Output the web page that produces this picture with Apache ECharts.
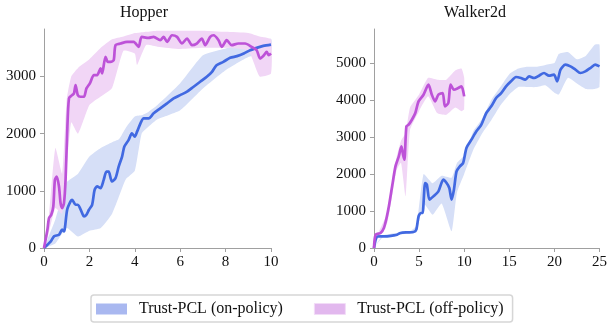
<!DOCTYPE html>
<html>
<head>
<meta charset="utf-8">
<script src="https://cdn.jsdelivr.net/npm/echarts@6/dist/echarts.min.js"></script>
<style>
  html, body { margin: 0; padding: 0; background: #fff; }
  #chart { width: 610px; height: 324px; }
</style>
</head>
<body>
<div id="chart"></div>
<script>
// ---- data ----
const titles = ['Hopper', 'Walker2d'];
const legendNames = ['Trust-PCL (on-policy)', 'Trust-PCL (off-policy)'];

const hopperYTicks = [0, 1000, 2000, 3000];
const hopperXTicks = [0, 2, 4, 6, 8, 10];
const walkerYTicks = [0, 1000, 2000, 3000, 4000, 5000];
const walkerXTicks = [0, 5, 10, 15, 20, 25];

// Hopper, on-policy mean curve
const hopperOnX = [0, 0.3, 0.44, 0.66, 0.8, 0.88, 1.02, 1.17, 1.24, 1.39, 1.49, 1.68, 1.76, 1.87, 1.98, 2.12, 2.23, 2.34, 2.49, 2.63, 2.75, 2.85, 2.99, 3.15, 3.29, 3.44, 3.54, 3.73, 3.87, 4.0, 4.1, 4.25, 4.39, 4.61, 4.83, 5.12, 5.42, 5.71, 6.0, 6.3, 6.59, 6.88, 7.17, 7.4, 7.6, 7.9, 8.2, 8.5, 8.8, 9.08, 9.37, 9.66, 10];
const hopperOnY = [0, 116, 203, 233, 320, 290, 669, 814, 843, 756, 756, 610, 552, 581, 669, 756, 1017, 1076, 1047, 1192, 1337, 1337, 1163, 1221, 1424, 1599, 1773, 1890, 2006, 1948, 2035, 2180, 2267, 2267, 2355, 2442, 2529, 2616, 2674, 2733, 2820, 2907, 2994, 3081, 3198, 3256, 3326, 3355, 3401, 3459, 3500, 3535, 3558];
// Hopper, on-policy spread
const hopperOnBandX = [0, 0.5, 1, 1.5, 2, 2.5, 3, 3.3, 3.6, 4, 4.3, 4.6, 5, 6, 7, 8, 9, 10];
const hopperOnLow = [0, 80, 350, 200, 300, 350, 600, 900, 1200, 1350, 2000, 2120, 2250, 2410, 2790, 3110, 3340, 3460];
const hopperOnHigh = [0, 500, 1150, 1300, 1600, 1750, 1850, 1900, 2100, 2300, 2320, 2380, 2500, 2880, 3370, 3490, 3575, 3660];

// Hopper, off-policy mean curve
const hopperOffX = [0, 0.15, 0.22, 0.32, 0.41, 0.48, 0.56, 0.66, 0.73, 0.8, 0.88, 0.95, 1.02, 1.1, 1.24, 1.32, 1.39, 1.49, 1.61, 1.76, 1.87, 2.02, 2.2, 2.34, 2.49, 2.56, 2.71, 2.81, 2.93, 3.07, 3.15, 3.37, 3.66, 3.95, 4.17, 4.3, 4.61, 4.83, 5.12, 5.27, 5.42, 5.64, 5.86, 6.08, 6.3, 6.52, 6.73, 6.95, 7.1, 7.32, 7.47, 7.69, 7.83, 8.05, 8.27, 8.56, 8.86, 9.15, 9.37, 9.52, 9.69, 9.81, 9.9, 10];
const hopperOffY = [0, 320, 523, 581, 727, 1192, 1250, 1076, 785, 698, 785, 1192, 2006, 2616, 2674, 2703, 2849, 2674, 2645, 2645, 2791, 2878, 3023, 3023, 3140, 3052, 3343, 3256, 3256, 3285, 3547, 3576, 3605, 3605, 3517, 3692, 3674, 3692, 3634, 3692, 3605, 3721, 3692, 3576, 3663, 3547, 3576, 3663, 3547, 3692, 3721, 3634, 3517, 3634, 3547, 3576, 3576, 3517, 3459, 3314, 3372, 3430, 3372, 3401];
// Hopper, off-policy spread
const hopperOffBandX = [0, 0.2, 0.5, 0.8, 1.0, 1.2, 1.5, 2, 2.5, 3, 3.5, 4, 4.1, 4.5, 5, 6, 7, 8, 9, 9.5, 10];
const hopperOffLow = [0, 250, 700, 600, 1400, 2200, 2000, 2500, 2650, 2800, 3450, 3400, 3200, 3550, 3520, 3480, 3500, 3500, 3450, 3000, 3050];
const hopperOffHigh = [0, 500, 1750, 1300, 2600, 3000, 3150, 3300, 3500, 3650, 3700, 3760, 3760, 3780, 3800, 3800, 3800, 3780, 3760, 3700, 3650];

// Walker2d, on-policy mean curve
const walkerOnX = [0, 0.29, 0.73, 1.46, 2.2, 2.56, 2.93, 3.66, 4.39, 4.69, 4.94, 5.2, 5.38, 5.67, 5.86, 6.15, 6.59, 7.14, 7.69, 8.05, 8.35, 8.6, 8.86, 9.15, 9.52, 9.88, 10.25, 10.8, 11.35, 11.9, 12.45, 13.0, 13.54, 14.1, 14.64, 15.19, 15.74, 16.29, 16.76, 17.2, 17.75, 18.3, 18.85, 19.4, 19.95, 20.3, 20.68, 21.23, 21.78, 22.33, 22.88, 23.43, 23.98, 24.52, 25];
const walkerOnY = [0, 297, 315, 315, 342, 360, 405, 423, 432, 495, 856, 946, 946, 1757, 1712, 1306, 1396, 1532, 1847, 1757, 1622, 1306, 1577, 2072, 2207, 2297, 2703, 2928, 3153, 3333, 3649, 3829, 4054, 4189, 4369, 4505, 4622, 4595, 4550, 4640, 4595, 4658, 4730, 4658, 4685, 4505, 4820, 4955, 4910, 4820, 4730, 4775, 4865, 4955, 4910];
// Walker2d, on-policy spread
const walkerOnBandX = [0, 1, 4, 4.7, 5.5, 6.5, 7.5, 8.6, 9.2, 10, 11, 12, 13, 14, 15, 16, 17, 18, 19, 20, 20.5, 21.5, 22.5, 23.5, 24.5, 25];
const walkerOnLow = [0, 290, 400, 420, 1200, 900, 1200, 450, 1500, 2000, 2650, 3100, 3450, 3850, 4150, 4350, 4350, 4350, 4400, 4200, 4150, 4600, 4450, 4300, 4300, 4350];
const walkerOnHigh = [0, 340, 460, 600, 2000, 1750, 1950, 1900, 2300, 2500, 3150, 3500, 4000, 4350, 4700, 4850, 4900, 4900, 4950, 5000, 5250, 5300, 5100, 5200, 5500, 5500];

// Walker2d, off-policy mean curve
const walkerOffX = [0, 0.18, 0.73, 1.1, 1.39, 1.65, 2.01, 2.38, 2.75, 3.04, 3.22, 3.37, 3.59, 3.84, 4.2, 4.58, 4.94, 5.49, 6.04, 6.41, 6.77, 7.14, 7.61, 7.87, 8.24, 8.49, 8.86, 9.33, 9.7, 10];
const walkerOffY = [0, 360, 405, 541, 811, 1126, 1667, 2207, 2477, 2748, 2523, 2387, 3288, 3333, 3468, 3649, 3964, 4144, 4414, 4144, 3964, 4144, 4189, 3829, 3919, 4414, 4279, 4324, 4369, 4099];
// Walker2d, off-policy spread
const walkerOffBandX = [0, 0.5, 1.5, 2.5, 3, 3.5, 4, 5, 6, 7, 8, 9, 9.7, 10];
const walkerOffLow = [0, 300, 700, 2100, 2300, 1400, 3200, 3700, 4100, 3650, 3600, 3800, 3700, 3750];
const walkerOffHigh = [0, 420, 950, 2450, 2900, 3100, 3800, 4150, 4600, 4550, 4550, 4800, 4850, 4600];

// ---- styling ----
const blueLine = '#4169e1';
const blueBand = '#d6dff7';
const pinkLine = '#bd52d8';
const pinkBand = '#f1d6f6';
const axisGray = '#a0a0a0';
const serif = 'Liberation Serif';

const zip = (xs, ys) => xs.map((x, i) => [x, ys[i]]);

// shaded spread: one polygon (upper edge then lower edge back) drawn via the axis scales
function band(name, xs, low, high, color, idx) {
  const rows = xs.map((x, i) => [x, low[i], high[i]]);
  return {
    name: name,
    type: 'custom', xAxisIndex: idx, yAxisIndex: idx,
    silent: true, z: 1,
    itemStyle: { color: color },
    encode: { x: 0, y: [1, 2] },
    data: rows,
    renderItem: function (params, api) {
      if (params.dataIndex !== 0) return;
      const top = rows.map(r => api.coord([r[0], r[2]]));
      const bottom = rows.map(r => api.coord([r[0], r[1]])).reverse();
      return {
        type: 'polygon',
        shape: { points: top.concat(bottom), smooth: 0.15 },
        style: { fill: color }
      };
    }
  };
}

function curve(xs, ys, color, idx) {
  return {
    type: 'line', xAxisIndex: idx, yAxisIndex: idx,
    symbol: 'none', smooth: 0.25, silent: true, z: 3,
    lineStyle: { color: color, width: 2.7 },
    data: zip(xs, ys)
  };
}

function xAxis(idx, max, ticks) {
  return {
    type: 'value', gridIndex: idx, min: 0, max: max,
    axisLine: { show: true, lineStyle: { color: axisGray, width: 1 } },
    axisTick: { show: true, length: 4, lineStyle: { color: axisGray }, customValues: ticks },
    axisLabel: { color: '#111', fontFamily: serif, fontSize: 15, margin: 7, customValues: ticks,
      formatter: v => String(v) },
    splitLine: { show: false }
  };
}

function yAxis(idx, max, ticks) {
  return {
    type: 'value', gridIndex: idx, min: 0, max: max,
    axisLine: { show: true, lineStyle: { color: axisGray, width: 1 } },
    axisTick: { show: true, length: 4, lineStyle: { color: axisGray }, customValues: ticks },
    axisLabel: { color: '#111', fontFamily: serif, fontSize: 15, margin: 8, customValues: ticks,
      formatter: v => String(v) },
    splitLine: { show: false }
  };
}

const chart = echarts.init(document.getElementById('chart'), null, { renderer: 'canvas' });

chart.setOption({
  animation: false,
  backgroundColor: '#fff',
  textStyle: { fontFamily: serif },
  title: [
    { text: titles[0], left: 139, top: 0, textAlign: 'center',
      textStyle: { fontFamily: serif, fontSize: 16, fontWeight: 'normal', color: '#111' } },
    { text: titles[1], left: 470, top: 0, textAlign: 'center',
      textStyle: { fontFamily: serif, fontSize: 16, fontWeight: 'normal', color: '#111' } }
  ],
  grid: [
    { left: 44, right: 339, top: 29, bottom: 76 },
    { left: 374, right: 9, top: 29, bottom: 76 }
  ],
  xAxis: [xAxis(0, 10, hopperXTicks), xAxis(1, 25, walkerXTicks)],
  yAxis: [yAxis(0, 3830, hopperYTicks), yAxis(1, 5920, walkerYTicks)],
  legend: {
    left: 91, top: 295,
    padding: [6, 9, 5, 5],
    itemWidth: 31, itemHeight: 11, itemGap: 31,
    borderColor: '#d6d6d6', borderWidth: 1.5, borderRadius: 3,
    textStyle: { fontFamily: serif, fontSize: 16, color: '#111', padding: [0, 0, 0, 7] },
    data: [
      { name: legendNames[0], icon: 'rect', itemStyle: { color: '#a9b8f0' } },
      { name: legendNames[1], icon: 'rect', itemStyle: { color: '#e2b8ee', borderColor: '#f2dcf7', borderWidth: 1 } }
    ],
    selectedMode: false
  },
  series: [
    band(legendNames[0], hopperOnBandX, hopperOnLow, hopperOnHigh, blueBand, 0),
    band(legendNames[1], hopperOffBandX, hopperOffLow, hopperOffHigh, pinkBand, 0),
    band(legendNames[0], walkerOnBandX, walkerOnLow, walkerOnHigh, blueBand, 1),
    band(legendNames[1], walkerOffBandX, walkerOffLow, walkerOffHigh, pinkBand, 1),
    curve(hopperOnX, hopperOnY, blueLine, 0),
    curve(hopperOffX, hopperOffY, pinkLine, 0),
    curve(walkerOnX, walkerOnY, blueLine, 1),
    curve(walkerOffX, walkerOffY, pinkLine, 1)
  ]
});
</script>
</body>
</html>
